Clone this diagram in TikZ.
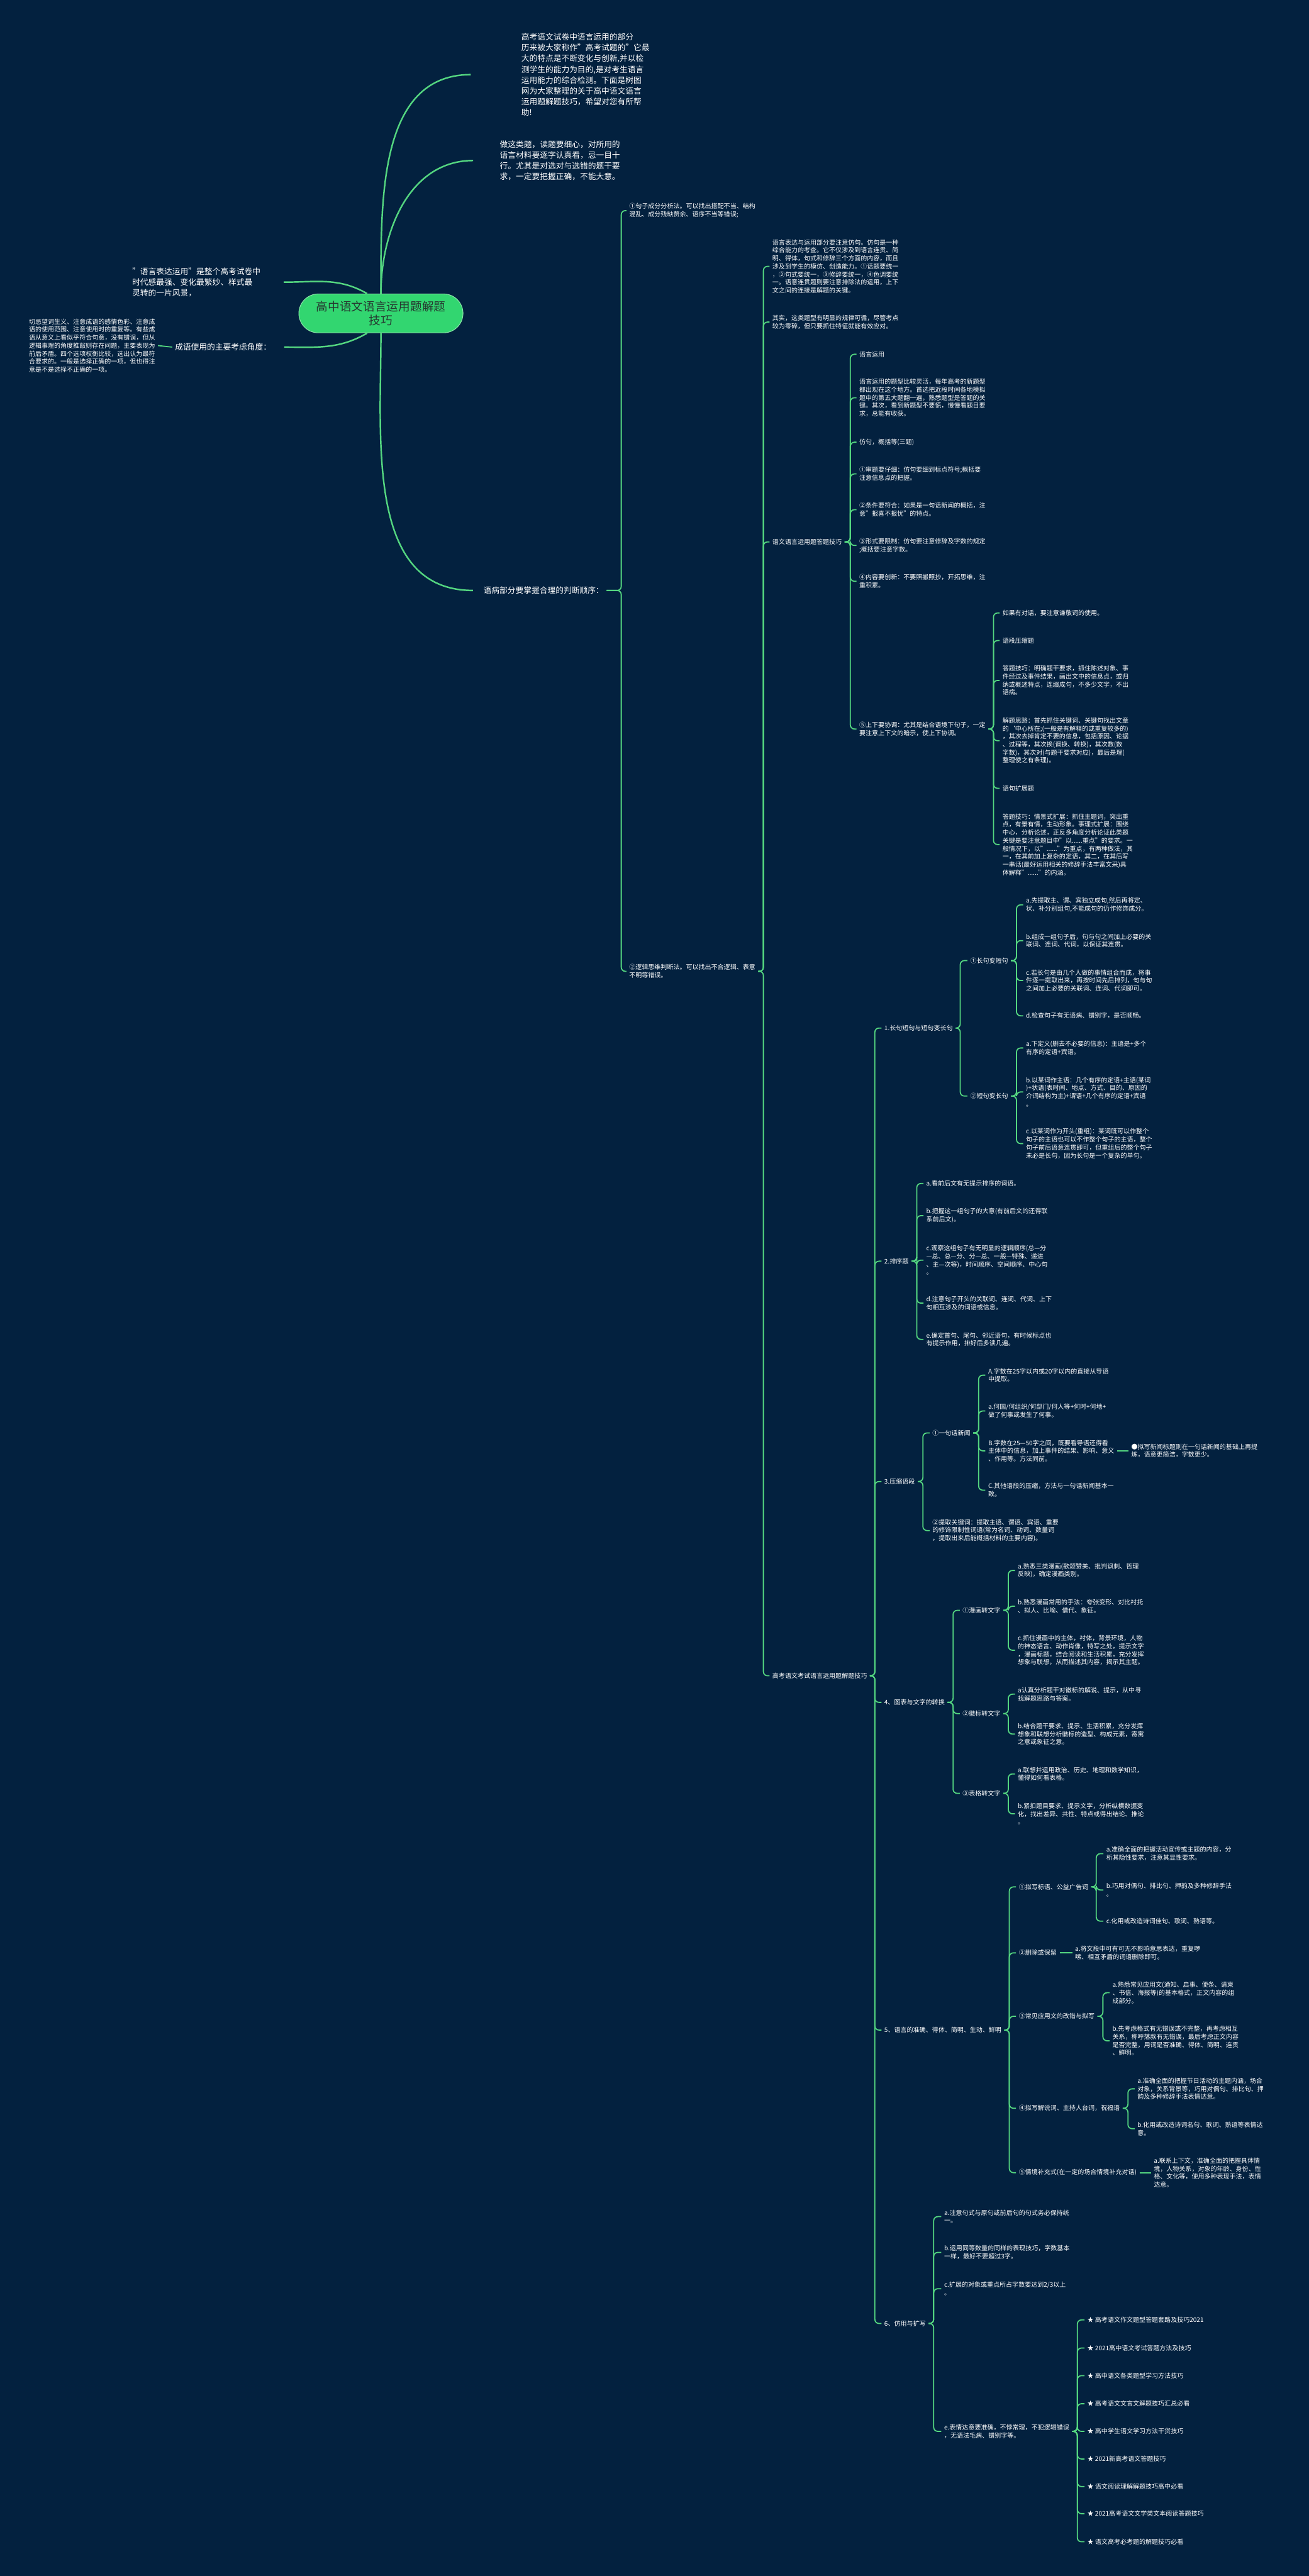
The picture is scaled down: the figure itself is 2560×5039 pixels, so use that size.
\documentclass[tikz,border=0pt]{standalone}
\usepackage{fontspec}
\setmainfont{Noto Sans CJK SC}
\definecolor{bgnavy}{RGB}{3,33,63}
\definecolor{lnkgreen}{RGB}{84,214,128}
\definecolor{rootgreen}{RGB}{50,214,112}
\definecolor{roottext}{RGB}{38,56,48}
\tikzset{
  leaf/.style={anchor=west, align=left, text=white, inner xsep=1.5pt, inner ysep=0pt, font=\fontsize{3.7}{4.7}\selectfont},
  topic/.style={leaf, font=\fontsize{4.7}{6.3}\selectfont},
  lnk/.style={draw=lnkgreen, line width=0.66pt, rounded corners=2.4pt},
  rootln/.style={draw=lnkgreen, line width=0.9pt},
  rootbox/.style={fill=rootgreen, draw=lnkgreen!70!white, line width=0.4pt, rounded corners=11.4pt, minimum width=96.3pt, minimum height=22.8pt, align=center, text=roottext, font=\fontsize{6.9}{8.1}\selectfont},
}
\newcommand{\branch}[3]{\foreach \kid in {#3}{\draw[lnk] (#1.east) -- (#1.east -| #2) |- (\kid.west);}}

\begin{document}
\begin{tikzpicture}[x=0.3pt,y=-0.3pt]
\useasboundingbox (0,0) rectangle (2560,5039);
\fill[bgnavy] (0,0) rectangle (2560,5039);

% root and first level
\node[rootbox] (root) at (745,613) {高中语文语言运用题解题\\技巧};
\node[topic] (T1) at (1014,146) {高考语文试卷中语言运用的部分\\历来被大家称作"高考试题的"它最\\大的特点是不断变化与创新,并以检\\测学生的能力为目的,是对考生语言\\运用能力的综合检测。下面是树图\\网为大家整理的关于高中语文语言\\运用题解题技巧，希望对您有所帮\\助!};
\node[topic] (T2) at (972,314) {做这类题，读题要细心，对所用的\\语言材料要逐字认真看，忌一目十\\行。尤其是对选对与选错的题干要\\求，一定要把握正确，不能大意。};
\node[topic,anchor=east] (L1) at (515,552) {"语言表达运用"是整个高考试卷中\\时代感最强、变化最繁妙、样式最\\灵转的一片风景，};
\node[topic,anchor=east] (L2) at (536,679) {成语使用的主要考虑角度：};
\node[leaf,anchor=east] (L3) at (309,676) {切忌望词生义、注意成语的感情色彩、注意成\\语的使用范围、注意使用时的重复等。有些成\\语从意义上看似乎符合句意，没有错误，但从\\逻辑事理的角度推敲则存在问题，主要表现为\\前后矛盾。四个选项权衡比较，选出认为最符\\合要求的。一般是选择正确的一项，但也得注\\意是不是选择不正确的一项。};
\node[topic] (R3) at (940,1155) {语病部分要掌握合理的判断顺序：};

\draw[rootln] (root.north) to[out=90,in=180] ([xshift=-28pt]T1.west);
\draw[rootln] (root.north) to[out=90,in=180] ([xshift=-14pt]T2.west);
\draw[rootln] (root.south) to[out=-90,in=180] ([xshift=-4.5pt]R3.west);
\draw[rootln] ([xshift=-8.1pt]root.north) to[out=150,in=0] ([xshift=12pt]L1.east);
\draw[rootln] ([xshift=-8.1pt]root.south) to[out=210,in=0] ([xshift=6pt]L2.east);
\draw[lnk] (L2.west) -- (L3.east);

% bracket columns
\coordinate (xA) at (1215,0);
\coordinate (xB) at (1493,0);
\coordinate (xC) at (1663,0);
\coordinate (xD) at (1943,0);
\coordinate (xE) at (1711,0);
\coordinate (xF) at (1878,0);
\coordinate (xG) at (1988,0);
\coordinate (xI) at (1793,0);
\coordinate (xJ) at (1805,0);
\coordinate (xK) at (1914,0);
\coordinate (xM) at (1864,0);
\coordinate (xN) at (1972,0);
\coordinate (xP) at (1974,0);
\coordinate (xQa) at (2144,0);
\coordinate (xQb) at (2157,0);
\coordinate (xQc) at (2206,0);
\coordinate (xS) at (1826,0);
\coordinate (xU) at (2107,0);

\node[leaf] (A1) at (1225,412) {①句子成分分析法。可以找出搭配不当、结构\\混乱、成分残缺赘余、语序不当等错误;};
\node[leaf] (A2) at (1225,1900) {②逻辑思维判断法。可以找出不合逻辑、表意\\不明等错误。};

\node[leaf] (B1) at (1505,521) {语言表达与运用部分要注意仿句。仿句是一种\\综合能力的考查。它不仅涉及到语言连贯、简\\明、得体，句式和修辞三个方面的内容，而且\\涉及到学生的模仿、创造能力。①话题要统一\\，②句式要统一，③修辞要统一，④色调要统\\一。语意连贯题则要注意排除法的运用，上下\\文之间的连接是解题的关键。};
\node[leaf] (B2) at (1505,630) {其实，这类题型有明显的规律可循，尽管考点\\较为零碎，但只要抓住特征就能有效应对。};
\node[leaf] (B3) at (1505,1060) {语文语言运用题答题技巧};
\node[leaf] (B4) at (1505,3278) {高考语文考试语言运用题解题技巧};

\node[leaf] (C1) at (1675,693) {语言运用};
\node[leaf] (C2) at (1675,778) {语言运用的题型比较灵活，每年高考的新题型\\都出现在这个地方。首选把近段时间各地模拟\\题中的第五大题翻一遍，熟悉题型是答题的关\\键。其次，看到新题型不要慌，慢慢看题目要\\求，总能有收获。};
\node[leaf] (C3) at (1675,865) {仿句，概括等(三题)};
\node[leaf] (C4) at (1675,927) {①审题要仔细：仿句要细到标点符号;概括要\\注意信息点的把握。};
\node[leaf] (C5) at (1675,997) {②条件要符合：如果是一句话新闻的概括，注\\意"报喜不报忧"的特点。};
\node[leaf] (C6) at (1675,1067) {③形式要限制：仿句要注意修辞及字数的规定\\;概括要注意字数。};
\node[leaf] (C7) at (1675,1137) {④内容要创新：不要照搬照抄，开拓思维，注\\重积累。};
\node[leaf] (C8) at (1675,1426) {⑤上下要协调：尤其是结合语境下句子，一定\\要注意上下文的暗示，使上下协调。};

\node[leaf] (D1) at (1955,1199) {如果有对话，要注意谦敬词的使用。};
\node[leaf] (D2) at (1955,1253) {语段压缩题};
\node[leaf] (D3) at (1955,1331) {答题技巧：明确题干要求，抓住陈述对象、事\\件经过及事件结果，画出文中的信息点，或归\\纳或概述特点，连缀成句，不多少文字，不出\\语病。};
\node[leaf] (D4) at (1955,1449) {解题思路：首先抓住关键词、关键句找出文章\\的`中心所在;(一般是有解释的或重复较多的)\\，其次去掉肯定不要的信息，包括原因、论据\\、过程等，其次换(调换、转换)，其次数(数\\字数)，其次对(与题干要求对应)，最后是理(\\整理使之有条理)。};
\node[leaf] (D5) at (1955,1542) {语句扩展题};
\node[leaf] (D6) at (1955,1652) {答题技巧：情景式扩展：抓住主题词，突出重\\点，有景有情，生动形象。事理式扩展：围绕\\中心，分析论述，正反多角度分析论证此类题\\关键是要注意题目中"以......重点"的要求。一\\般情况下，以"......"为重点，有两种做法，其\\一，在其前加上复杂的定语，其二，在其后写\\一串话(最好运用相关的修辞手法丰富文采)具\\体解释"......"的内涵。};

\node[leaf] (E1) at (1724,2011) {1.长句短句与短句变长句};
\node[leaf] (E2) at (1724,2467) {2.排序题};
\node[leaf] (E3) at (1724,2898) {3.压缩语段};
\node[leaf] (E4) at (1724,3330) {4、图表与文字的转换};
\node[leaf] (E5) at (1724,3971) {5、语言的准确、得体、简明、生动、鲜明};
\node[leaf] (E6) at (1724,4545) {6、仿用与扩写};

\node[leaf] (F1) at (1892,1879) {①长句变短句};
\node[leaf] (F2) at (1892,2144) {②短句变长句};
\node[leaf] (G1) at (2001,1770) {a.先提取主、谓、宾独立成句,然后再将定、\\状、补分别组句,不能成句的仍作修饰成分。};
\node[leaf] (G2) at (2001,1840) {b.组成一组句子后，句与句之间加上必要的关\\联词、连词、代词，以保证其连贯。};
\node[leaf] (G3) at (2001,1918) {c.若长句是由几个人做的事情组合而成，将事\\件逐一提取出来，再按时间先后排列，句与句\\之间加上必要的关联词、连词、代词即可。};
\node[leaf] (G4) at (2001,1987) {d.检查句子有无语病、错别字，是否顺畅。};
\node[leaf] (H1) at (2001,2050) {a.下定义(删去不必要的信息)：主语是+多个\\有序的定语+宾语。};
\node[leaf] (H2) at (2001,2136) {b.以某词作主语：几个有序的定语+主语(某词\\)+状语(表时间、地点、方式、目的、原因的\\介词结构为主)+谓语+几个有序的定语+宾语\\。};
\node[leaf] (H3) at (2001,2237) {c.以某词作为开头(重组)：某词既可以作整个\\句子的主语也可以不作整个句子的主语，整个\\句子前后语意连贯即可，但重组后的整个句子\\未必是长句，因为长句是一个复杂的单句。};

\node[leaf] (I1) at (1806,2315) {a.看前后文有无提示排序的词语。};
\node[leaf] (I2) at (1806,2378) {b.把握这一组句子的大意(有前后文的还得联\\系前后文)。};
\node[leaf] (I3) at (1806,2465) {c.观察这组句子有无明显的逻辑顺序(总—分\\—总、总—分、分—总、一般—特殊、递进\\、主—次等)，时间顺序、空间顺序、中心句\\。};
\node[leaf] (I4) at (1806,2549) {d.注意句子开头的关联词、连词、代词、上下\\句相互涉及的词语或信息。};
\node[leaf] (I5) at (1806,2620) {e.确定首句、尾句、邻近语句，有时候标点也\\有提示作用，排好后多读几遍。};

\node[leaf] (J1) at (1818,2803) {①一句话新闻};
\node[leaf] (J2) at (1818,2994) {②提取关键词：提取主语、谓语、宾语、重要\\的修饰限制性词语(常为名词、动词、数量词\\，提取出来后能概括材料的主要内容)。};
\node[leaf] (K1) at (1927,2690) {A.字数在25字以内或20字以内的直接从导语\\中提取。};
\node[leaf] (K2) at (1927,2760) {a.何国/何组织/何部门/何人等+何时+何地+\\做了何事或发生了何事。};
\node[leaf] (K3) at (1927,2838) {B.字数在25—50字之间，既要看导语还得看\\主体中的信息，加上事件的结果、影响、意义\\、作用等。方法同前。};
\node[leaf] (K4) at (1927,2915) {C.其他语段的压缩，方法与一句话新闻基本一\\致。};
\node[leaf] (K5) at (2207,2838) {●拟写新闻标题则在一句话新闻的基础上再提\\炼，语意更简洁，字数更少。};

\node[leaf] (M1) at (1877,3150) {①漫画转文字};
\node[leaf] (M2) at (1877,3352) {②徽标转文字};
\node[leaf] (M3) at (1877,3508) {③表格转文字};
\node[leaf] (N1) at (1985,3072) {a.熟悉三类漫画(歌颂赞美、批判讽刺、哲理\\反映)，确定漫画类别。};
\node[leaf] (N2) at (1985,3142) {b.熟悉漫画常用的手法：夸张变形、对比衬托\\、拟人、比喻、借代、象征。};
\node[leaf] (N3) at (1985,3228) {c.抓住漫画中的主体，衬体，背景环境，人物\\的神态语言、动作肖像，特写之处，提示文字\\，漫画标题，结合阅读和生活积累，充分发挥\\想象与联想，从而描述其内容，揭示其主题。};
\node[leaf] (N4) at (1985,3314) {a认真分析题干对徽标的解说、提示，从中寻\\找解题思路与答案。};
\node[leaf] (N5) at (1985,3392) {b.结合题干要求、提示、生活积累，充分发挥\\想象和联想分析徽标的造型、构成元素，寄寓\\之意或象征之意。};
\node[leaf] (N6) at (1985,3470) {a.联想并运用政治、历史、地理和数学知识，\\懂得如何看表格。};
\node[leaf] (N7) at (1985,3548) {b.紧扣题目要求、提示文字，分析纵横数据变\\化，找出差异、共性、特点或得出结论、推论\\。};

\node[leaf] (P1) at (1987,3691) {①拟写标语、公益广告词};
\node[leaf] (P2) at (1987,3820) {②删除或保留};
\node[leaf] (P3) at (1987,3944) {③常见应用文的改错与拟写};
\node[leaf] (P4) at (1987,4124) {④拟写解说词、主持人台词，祝福语};
\node[leaf] (P5) at (1987,4250) {⑤情境补充式(在一定的场合情境补充对话)};
\node[leaf] (Q1) at (2158,3626) {a.准确全面的把握活动宣传或主题的内容，分\\析其隐性要求，注意其显性要求。};
\node[leaf] (Q2) at (2158,3697) {b.巧用对偶句、排比句、押韵及多种修辞手法\\。};
\node[leaf] (Q3) at (2158,3758) {c.化用或改造诗词佳句、歌词、熟语等。};
\node[leaf] (Q4) at (2097,3820) {a.将文段中可有可无不影响意思表达，重复啰\\嗦、相互矛盾的词语删除即可。};
\node[leaf] (Q5) at (2170,3898) {a.熟悉常见应用文(通知、启事、便条、请柬\\、书信、海报等)的基本格式，正文内容的组\\成部分。};
\node[leaf] (Q6) at (2170,3992) {b.先考虑格式有无错误或不完整，再考虑相互\\关系，称呼落款有无错误，最后考虑正文内容\\是否完整，用词是否准确、得体、简明、连贯\\、鲜明。};
\node[leaf] (Q7) at (2219,4086) {a.准确全面的把握节日活动的主题内涵，场合\\对象，关系背景等，巧用对偶句、排比句、押\\韵及多种修辞手法表情达意。};
\node[leaf] (Q8) at (2219,4164) {b.化用或改造诗词名句、歌词、熟语等表情达\\意。};
\node[leaf] (Q9) at (2251,4250) {a.联系上下文，准确全面的把握具体情\\境，人物关系，对象的年龄、身份、性\\格、文化等，使用多种表现手法，表情\\达意。};

\node[leaf] (S1) at (1841,4336) {a.注意句式与原句或前后句的句式务必保持统\\一。};
\node[leaf] (S2) at (1841,4406) {b.运用同等数量的同样的表现技巧，字数基本\\一样，最好不要超过3字。};
\node[leaf] (S3) at (1841,4477) {c.扩展的对象或重点所占字数要达到2/3以上\\。};
\node[leaf] (S4) at (1841,4756) {e.表情达意要准确，不悖常理，不犯逻辑错误\\，无语法毛病、错别字等。};
\node[leaf] (U1) at (2121,4538) {★ 高考语文作文题型答题套路及技巧2021};
\node[leaf] (U2) at (2121,4593) {★ 2021高中语文考试答题方法及技巧};
\node[leaf] (U3) at (2121,4647) {★ 高中语文各类题型学习方法技巧};
\node[leaf] (U4) at (2121,4702) {★ 高考语文文言文解题技巧汇总必看};
\node[leaf] (U5) at (2121,4756) {★ 高中学生语文学习方法干货技巧};
\node[leaf] (U6) at (2121,4810) {★ 2021新高考语文答题技巧};
\node[leaf] (U7) at (2121,4864) {★ 语文阅读理解解题技巧高中必看};
\node[leaf] (U8) at (2121,4917) {★ 2021高考语文文学类文本阅读答题技巧};
\node[leaf] (U9) at (2121,4972) {★ 语文高考必考题的解题技巧必看};

% connectors
\branch{R3}{xA}{A1,A2}
\branch{A2}{xB}{B1,B2,B3,B4}
\branch{B3}{xC}{C1,C2,C3,C4,C5,C6,C7,C8}
\branch{C8}{xD}{D1,D2,D3,D4,D5,D6}
\branch{B4}{xE}{E1,E2,E3,E4,E5,E6}
\branch{E1}{xF}{F1,F2}
\branch{F1}{xG}{G1,G2,G3,G4}
\branch{F2}{xG}{H1,H2,H3}
\branch{E2}{xI}{I1,I2,I3,I4,I5}
\branch{E3}{xJ}{J1,J2}
\branch{J1}{xK}{K1,K2,K3,K4}
\draw[lnk] (K3.east) -- (K5.west);
\branch{E4}{xM}{M1,M2,M3}
\branch{M1}{xN}{N1,N2,N3}
\branch{M2}{xN}{N4,N5}
\branch{M3}{xN}{N6,N7}
\branch{E5}{xP}{P1,P2,P3,P4,P5}
\branch{P1}{xQa}{Q1,Q2,Q3}
\draw[lnk] (P2.east) -- (Q4.west);
\branch{P3}{xQb}{Q5,Q6}
\branch{P4}{xQc}{Q7,Q8}
\draw[lnk] (P5.east) -- (Q9.west);
\branch{E6}{xS}{S1,S2,S3,S4}
\branch{S4}{xU}{U1,U2,U3,U4,U5,U6,U7,U8,U9}
\end{tikzpicture}
\end{document}
